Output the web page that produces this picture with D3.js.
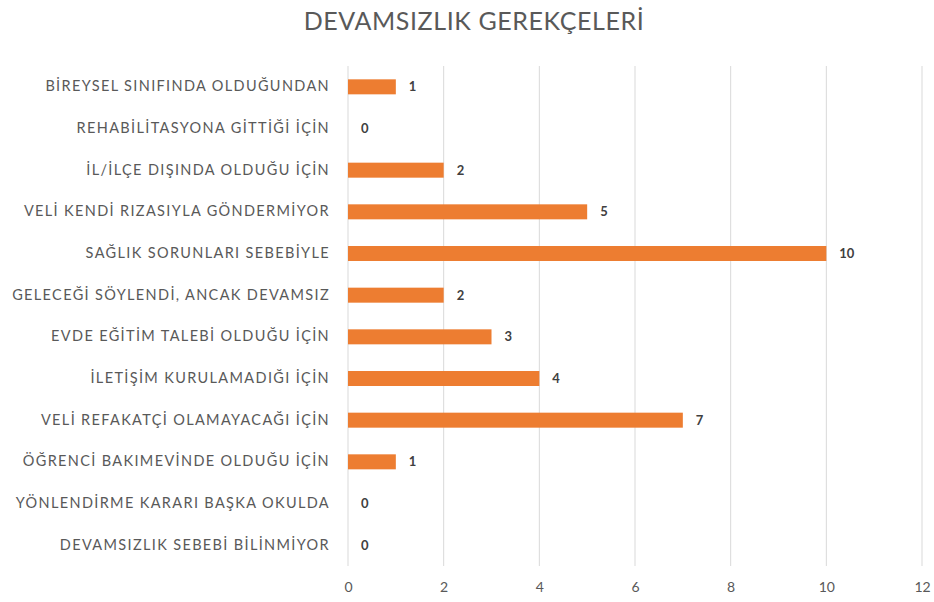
<!DOCTYPE html>
<html>
<head>
<meta charset="utf-8">
<script src="https://cdn.jsdelivr.net/npm/d3@7"></script>
<style>
body { margin: 0; background: #fff; }
svg { font-family: Lato, "Open Sans", sans-serif; }
</style>
</head>
<body>
<svg id="chart"></svg>
<script>
const reasons = ["BİREYSEL SINIFINDA OLDUĞUNDAN", "REHABİLİTASYONA GİTTİĞİ İÇİN", "İL/İLÇE DIŞINDA OLDUĞU İÇİN",
    "VELİ KENDİ RIZASIYLA GÖNDERMİYOR", "SAĞLIK SORUNLARI SEBEBİYLE", "GELECEĞİ SÖYLENDİ, ANCAK DEVAMSIZ",
    "EVDE EĞİTİM TALEBİ OLDUĞU İÇİN", "İLETİŞİM KURULAMADIĞI İÇİN", "VELİ REFAKATÇİ OLAMAYACAĞI İÇİN",
    "ÖĞRENCİ BAKIMEVİNDE OLDUĞU İÇİN", "YÖNLENDİRME KARARI BAŞKA OKULDA", "DEVAMSIZLIK SEBEBİ BİLİNMİYOR"];
const counts = [1, 0, 2, 5, 10, 2, 3, 4, 7, 1, 0, 0];
const x_ticks = [0, 2, 4, 6, 8, 10, 12];

const width = 934, height = 602;
const margin = {top: 66, right: 12, bottom: 36, left: 348};

const svg = d3.select("#chart").attr("width", width).attr("height", height);

svg.append("text")
    .attr("x", 474).attr("y", 30)
    .attr("text-anchor", "middle")
    .style("font-size", "25px")
    .style("letter-spacing", "0.6px")
    .style("fill", "#595959")
    .text("DEVAMSIZLIK GEREKÇELERİ");

const g = svg.append("g").attr("transform", "translate(" + margin.left + "," + margin.top + ")");
const w = width - margin.left - margin.right,
    h = height - margin.top - margin.bottom;

const xScale = d3.scaleLinear().domain([0, 12]).range([0, w]);
const yScale = d3.scaleBand().domain(reasons).range([0, h]).paddingInner(0.64).paddingOuter(0.32);

// grid lines
g.selectAll(".grid")
    .data(x_ticks)
    .enter().append("line")
    .attr("class", "grid")
    .attr("x1", d => xScale(d)).attr("x2", d => xScale(d))
    .attr("y1", 0).attr("y2", h)
    .style("stroke", "#d9d9d9").style("stroke-width", 1);

// x axis labels
g.append("g")
    .attr("transform", "translate(0," + h + ")")
    .call(d3.axisBottom(xScale).tickValues(x_ticks).tickSize(0).tickPadding(16))
    .call(a => a.select(".domain").remove())
    .selectAll("text")
    .style("font-size", "14px")
    .style("font-family", "Lato, sans-serif")
    .style("fill", "#595959");

// y axis labels
g.append("g")
    .call(d3.axisLeft(yScale).tickSize(0).tickPadding(18))
    .call(a => a.select(".domain").remove())
    .selectAll("text")
    .style("font-size", "14.5px")
    .style("letter-spacing", "1.35px")
    .style("font-family", "Lato, sans-serif")
    .style("fill", "#595959");

g.selectAll(".bar")
    .data(reasons)
    .enter().append("rect")
    .attr("class", "bar")
    .attr("x", 0)
    .attr("y", d => yScale(d))
    .attr("width", (d, i) => xScale(counts[i]))
    .attr("height", yScale.bandwidth())
    .style("fill", "#ed7d31");

g.selectAll(".val")
    .data(reasons)
    .enter().append("text")
    .attr("class", "val")
    .attr("x", (d, i) => xScale(counts[i]) + 13)
    .attr("y", d => yScale(d) + yScale.bandwidth() / 2)
    .attr("dy", "0.35em")
    .style("font-size", "13px")
    .style("font-weight", "bold")
    .style("fill", "#404040")
    .text((d, i) => counts[i]);
</script>
</body>
</html>
